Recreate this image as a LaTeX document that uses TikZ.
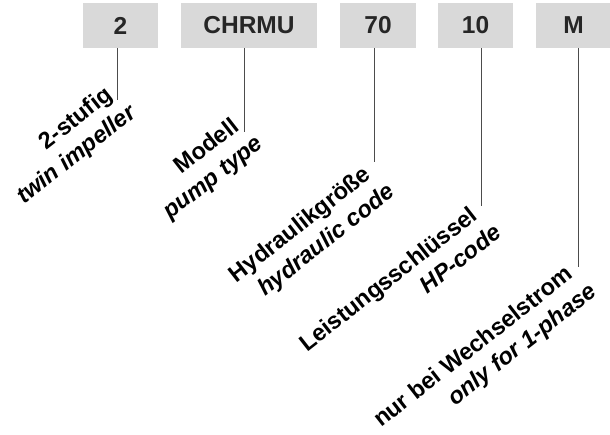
\documentclass[tikz,border=0pt]{standalone}
\usepackage{fontspec}
\setmainfont{Liberation Sans}

\begin{document}
\begin{tikzpicture}[x=1pt, y=-1pt,
  codebox/.style = {fill=black!15, minimum height=45pt, inner sep=0pt,
    text=black!85, font=\fontsize{24.5}{28}\selectfont\bfseries},
  lbl/.style = {rotate=38, anchor=base west, inner sep=0pt,
    font=\fontsize{23.5}{28}\selectfont\bfseries},
  lblen/.style = {lbl, anchor=base east, xshift=8pt, yshift=-28.5pt,
    font=\fontsize{23.5}{28}\selectfont\bfseries\itshape},
  leader/.style = {black!70, line width=.8pt}]
  \useasboundingbox (0,0) rectangle (610,434);
  % 代码方框
  \node[codebox, minimum width=75pt]  (b1) at (120.5,25.5) {2};
  \node[codebox, minimum width=136pt] (b2) at (249,25.5)   {CHRMU};
  \node[codebox, minimum width=76pt]  (b3) at (378,25.5)   {70};
  \node[codebox, minimum width=75pt]  (b4) at (475.5,25.5) {10};
  \node[codebox, minimum width=75pt]  (b5) at (573.5,25.5) {M};
  % 引线的下端点
  \coordinate (e1) at (117,100);
  \coordinate (e2) at (244,132);
  \coordinate (e3) at (374,162);
  \coordinate (e4) at (481,206);
  \coordinate (e5) at (578,267);
  % 绘制引线
  \draw[leader] (b1.south -| e1) -- (e1);
  \draw[leader] (b2.south -| e2) -- (e2);
  \draw[leader] (b3.south -| e3) -- (e3);
  \draw[leader] (b4.south -| e4) -- (e4);
  \draw[leader] (b5.south -| e5) -- (e5);
  % 斜排的德文说明
  \node[lbl] (de1) at (46.5,150.5) {2-stufig};
  \node[lbl] (de2) at (181.5,175)  {Modell};
  \node[lbl] (de3) at (236.3,283.5) {Hydraulikgröße};
  \node[lbl] (de4) at (307,352.5)  {Leistungsschlüssel};
  \node[lbl] (de5) at (381,428)    {nur bei Wechselstrom};
  % 下一行的英文说明
  \node[lblen] (en1) at (de1.base east) {twin impeller};
  \node[lblen] (en2) at (de2.base east) {pump type};
  \node[lblen] (en3) at (de3.base east) {hydraulic code};
  \node[lblen] (en4) at (de4.base east) {HP-code};
  \node[lblen] (en5) at (de5.base east) {only for 1-phase};
\end{tikzpicture}
\end{document}
